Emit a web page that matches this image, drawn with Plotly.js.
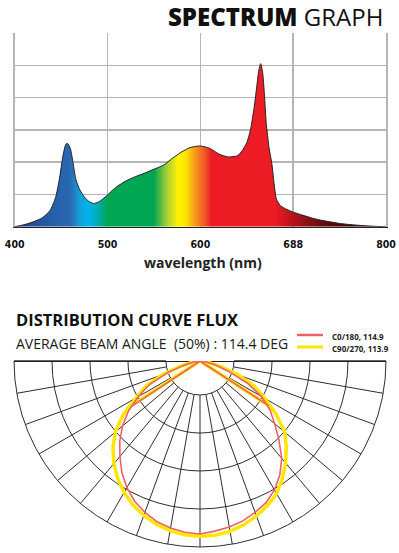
<!DOCTYPE html>
<html>
<head>
<meta charset="utf-8">
<script src="https://cdn.plot.ly/plotly-3.0.1.min.js"></script>
<style>html,body{margin:0;padding:0;background:#fff;}#chart{width:399px;height:553px;}</style>
</head>
<body>
<div id="chart"></div>
<script>
// ---- Spectrum data (wavelength nm, relative intensity) ----
var wavelengths = [400,410,420,430,438,444,448,452,455,457,460,463,466,470,475,480,485,490,495,500,505,510,520,530,540,550,560,570,580,590,600,610,620,630,640,645,650,654,658,661,663,665,667,669,671,674,677,680,682,686,690,700,710,720,730,740,750,760,770,780,790,800];
var intensity = [0.0,0.06,0.15,0.28,0.5,0.9,1.45,2.2,2.55,2.58,2.42,1.95,1.45,1.15,0.92,0.78,0.72,0.76,0.86,0.98,1.12,1.24,1.42,1.55,1.66,1.78,1.9,2.12,2.32,2.46,2.5,2.43,2.25,2.16,2.2,2.35,2.6,3.0,3.7,4.4,4.85,5.05,4.8,4.1,3.2,2.45,1.95,1.2,0.85,0.66,0.58,0.45,0.36,0.27,0.2,0.15,0.1,0.07,0.045,0.025,0.01,0.0];
var xTickVals = [400,500,600,700,800];
var xTickText = ['400','500','600','688','800'];

// ---- Distribution curve data (angle from nadir in degrees, relative intensity) ----
var nadirAngles = [0,5,10,15,20,25,30,35,40,45,50,55,60,65,70,75,80,85,90];
var c0Left   = [4.65,4.62,4.56,4.47,4.33,4.16,3.93,3.66,3.35,3.05,2.72,2.35,1.92,1.5,0.95,0.48,0.22,0.08,0];
var c0Right  = [4.65,4.59,4.53,4.45,4.33,4.2,4.0,3.74,3.42,3.0,2.62,2.3,1.91,1.4,0.82,0.45,0.2,0.08,0];
var c90Left  = [4.71,4.69,4.63,4.54,4.42,4.27,4.08,3.86,3.6,3.31,2.97,2.52,1.98,1.6,1.05,0.55,0.25,0.1,0];
var c90Right = [4.71,4.70,4.65,4.56,4.43,4.29,4.12,3.86,3.58,3.28,2.98,2.5,2.02,1.6,1.1,0.6,0.28,0.1,0];
// closing point of each half-curve (angle, r)
var c0Loop  = {leftAngle:56.5, leftR:2.22, rightAngle:57, rightR:2.2};
var c90Loop = {leftAngle:57, leftR:2.35, rightAngle:57, rightR:2.3};
var seriesNames = ['C0/180, 114.9','C90/270, 113.9'];
var title1 = 'DISTRIBUTION CURVE FLUX';
var subtitle = 'AVERAGE BEAM ANGLE\u00a0\u00a0(50%) : 114.4 DEG';

var RED = '#ef6068', YELLOW = '#ffe600';

function buildCurve(left, right, loop){
  var r = [loop.leftR], th = [270 - loop.leftAngle];
  for (var i = nadirAngles.length - 1; i >= 0; i--) { r.push(left[i]); th.push(270 - nadirAngles[i]); }
  for (var j = 1; j < nadirAngles.length; j++) { r.push(right[j]); th.push(270 + nadirAngles[j]); }
  r.push(loop.rightR); th.push(270 + loop.rightAngle);
  return {r:r, theta:th};
}
var c0 = buildCurve(c0Left, c0Right, c0Loop);
var c90 = buildCurve(c90Left, c90Right, c90Loop);

var H = 553, W = 399;
var traces = [
  {
    type:'scatter', x:wavelengths, y:intensity, mode:'lines',
    line:{color:'#222', width:1, shape:'spline', smoothing:0.6},
    fill:'tozeroy',
    fillgradient:{type:'horizontal', start:400, stop:800, colorscale:[
      [0,'#2b3c8c'],[0.1,'#2360a8'],[0.15,'#2a68b2'],[0.175,'#12a0dc'],[0.2,'#00b4ec'],
      [0.23,'#00aa9a'],[0.25,'#00a651'],[0.375,'#00a651'],[0.41,'#a8cf38'],[0.44,'#fff200'],
      [0.46,'#fde600'],[0.4875,'#f7941d'],[0.51,'#f15a24'],[0.53,'#ed1c24'],[0.7,'#ed1c24'],
      [0.75,'#b5121b'],[0.825,'#6b0d0d'],[0.9,'#3d0606'],[1,'#2a0808']]},
    hoverinfo:'skip', showlegend:false
  },
  { type:'scatterpolar', subplot:'polar', r:[0], theta:[270], mode:'markers', marker:{opacity:0}, hoverinfo:'skip', showlegend:false },
  { type:'scatterpolar', subplot:'polar2', r:[5,5], theta:[180,360], mode:'lines', line:{color:'#222', width:2}, cliponaxis:false, hoverinfo:'skip', showlegend:false },
  { type:'scatterpolar', subplot:'polar2', name:seriesNames[1], r:c90.r, theta:c90.theta, mode:'lines', line:{color:YELLOW, width:3.5}, cliponaxis:false, showlegend:false },
  { type:'scatterpolar', subplot:'polar2', name:seriesNames[0], r:c0.r, theta:c0.theta, mode:'lines', line:{color:RED, width:1.6}, cliponaxis:false, showlegend:false }
];

var polarDomain = {x:[14/W, 386/W], y:[6/H, 192/H]};
var layout = {
  width:W, height:H, margin:{l:0,r:0,t:0,b:0}, paper_bgcolor:'#fff', plot_bgcolor:'#fff', showlegend:false,
  font:{family:'Open Sans, sans-serif', color:'#111'},
  xaxis:{domain:[14.7/W, 386/W], range:[400,800], tickvals:xTickVals, ticktext:xTickText,
    showgrid:true, gridcolor:'#b5b5b5', gridwidth:1.5, zeroline:false,
    showline:true, linecolor:'#222', linewidth:1.5, ticks:'outside', ticklen:7, tickcolor:'rgba(0,0,0,0)',
    tickfont:{family:'Liberation Sans Narrow, DejaVu Sans Condensed, sans-serif', size:10.5, color:'#111', weight:'bold'}, fixedrange:true},
  yaxis:{domain:[(H-226.7)/H, (H-33)/H], range:[0,6], dtick:1, tick0:0, showticklabels:false,
    showgrid:true, gridcolor:'#b5b5b5', gridwidth:1.5, zeroline:false,
    showline:true, mirror:true, linecolor:'#b5b5b5', linewidth:1.5, ticks:'', fixedrange:true},
  polar:{domain:polarDomain, sector:[180,360], hole:0.183, bgcolor:'#fff',
    radialaxis:{range:[0,4], tickvals:[1,2,3,4], showticklabels:false, ticks:'', showline:false, gridcolor:'#2e2e2e', gridwidth:1},
    angularaxis:{tickmode:'linear', tick0:0, dtick:10, showticklabels:false, ticks:'', gridcolor:'#2e2e2e', gridwidth:1, showline:true, linecolor:'#2e2e2e', linewidth:1}},
  polar2:{domain:polarDomain, sector:[180,360], hole:0, bgcolor:'rgba(0,0,0,0)',
    radialaxis:{range:[0,5], visible:false}, angularaxis:{visible:false}},
  shapes:[
    {type:'line', xref:'paper', yref:'paper', x0:297/W, x1:323/W, y0:1-335/H, y1:1-335/H, line:{color:RED, width:2.5}},
    {type:'line', xref:'paper', yref:'paper', x0:297/W, x1:323/W, y0:1-347/H, y1:1-347/H, line:{color:YELLOW, width:3}}
  ],
  annotations:[
    {xref:'paper', yref:'paper', x:385/W, y:1-16.5/H, xanchor:'right', yanchor:'middle', showarrow:false,
      text:'<span style="font-weight:900">SPECTRUM</span> GRAPH', font:{family:'Open Sans, sans-serif', size:24, color:'#111'}},
    {xref:'paper', yref:'paper', x:203/W, y:1-262.5/H, xanchor:'center', yanchor:'middle', showarrow:false,
      text:'<b>wavelength (nm)</b>', font:{family:'Open Sans, sans-serif', size:14, color:'#222'}},
    {xref:'paper', yref:'paper', x:14/W, y:1-319/H, xanchor:'left', yanchor:'middle', showarrow:false,
      text:'<b>'+title1+'</b>', font:{family:'Open Sans, sans-serif', size:16.5, color:'#111'}},
    {xref:'paper', yref:'paper', x:14/W, y:1-343/H, xanchor:'left', yanchor:'middle', showarrow:false,
      text:subtitle, font:{family:'Open Sans, sans-serif', size:14, color:'#1a1a1a'}},
    {xref:'paper', yref:'paper', x:330/W, y:1-336/H, xanchor:'left', yanchor:'middle', showarrow:false,
      text:'<b>'+seriesNames[0]+'</b>', font:{family:'Open Sans, sans-serif', size:8, color:'#222'}},
    {xref:'paper', yref:'paper', x:330/W, y:1-348/H, xanchor:'left', yanchor:'middle', showarrow:false,
      text:'<b>'+seriesNames[1]+'</b>', font:{family:'Open Sans, sans-serif', size:8, color:'#222'}}
  ]
};
Plotly.newPlot('chart', traces, layout, {staticPlot:true, displayModeBar:false});
</script>
</body>
</html>
